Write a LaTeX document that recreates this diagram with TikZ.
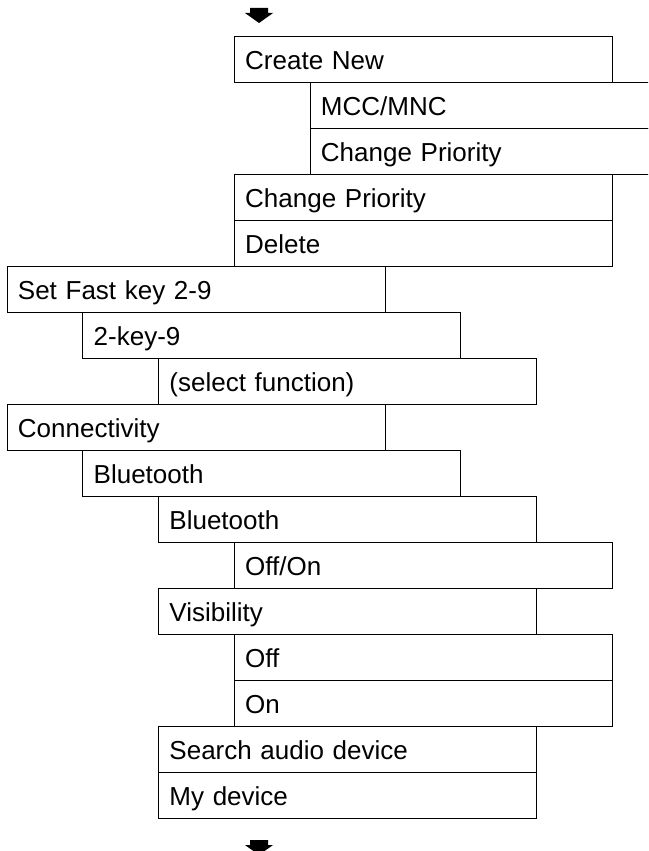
\documentclass[tikz,border=0pt]{standalone}
\usepackage{fontspec}
\setmainfont{Liberation Sans}
\begin{document}
\begin{tikzpicture}[x=1pt, y=-1pt,
    menubox/.style={draw, line width=0.9pt, anchor=north west, align=left,
        text width=356pt, inner xsep=11pt, inner ysep=0pt,
        text height=33pt, text depth=13pt, font=\fontsize{26}{30}\selectfont}]
    \useasboundingbox (0,0) rectangle (648,851);
    \clip (0,0) rectangle (648,851);

    % menu rows: indent level / label
    \foreach \lev/\txt [count=\i from 0] in {3/{Create New}, 4/{MCC/MNC}, 4/{Change Priority},
        3/{Change Priority}, 3/{Delete}, 0/{Set Fast key 2-9}, 1/{2-key-9}, 2/{(select function)},
        0/{Connectivity}, 1/{Bluetooth}, 2/{Bluetooth}, 3/{Off/On}, 2/{Visibility}, 3/{Off},
        3/{On}, 2/{Search audio device}, 2/{My device}} {
        \node[menubox] (row\i) at ({6.5+75.75*\lev}, {35.8+46*\i}) {\txt};
    }

    % continuation arrows
    \foreach \y in {8, 840} {
        \fill (250,\y) -- (268,\y) -- (268,\y+5) -- (273,\y+5) -- (259,\y+15)
            -- (245,\y+5) -- (250,\y+5) -- cycle;
    }
\end{tikzpicture}
\end{document}
